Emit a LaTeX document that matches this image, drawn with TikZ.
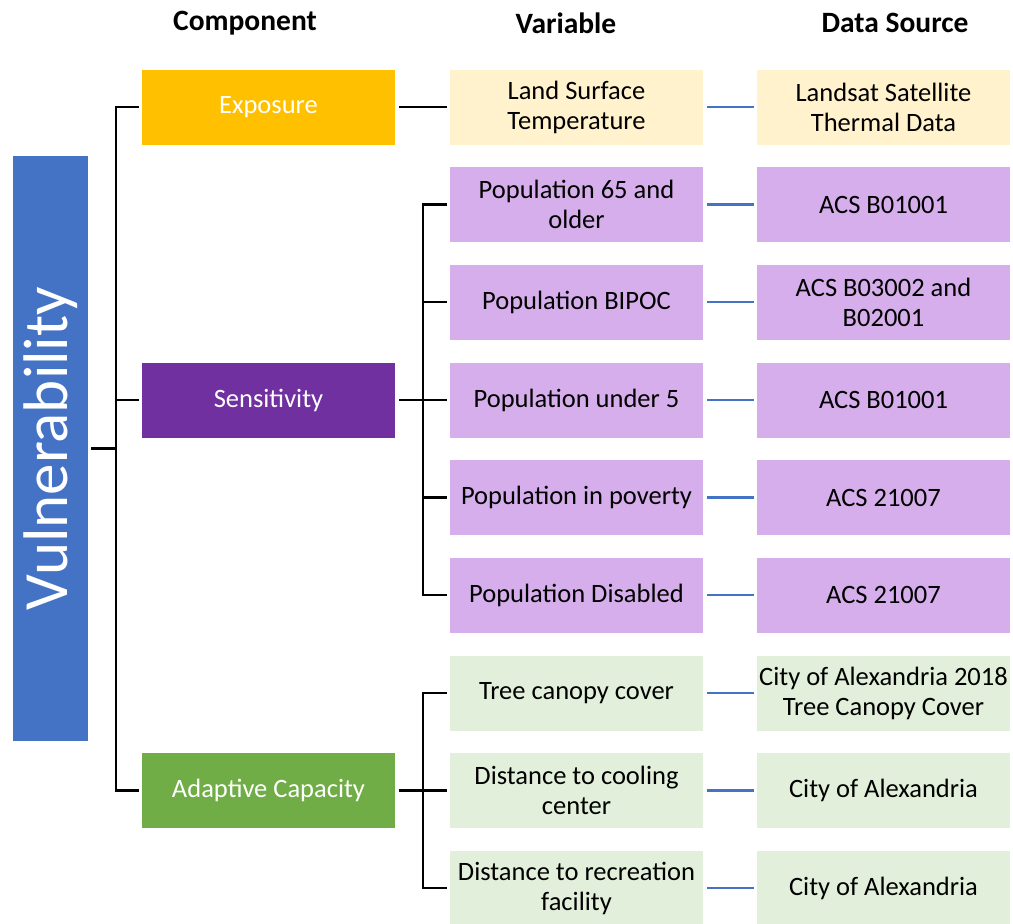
\documentclass[tikz,border=0pt]{standalone}
\usepackage{fontspec}
\setmainfont{Carlito}
\definecolor{vblue}{HTML}{4472C4}
\definecolor{expo}{HTML}{FFC000}
\definecolor{expolt}{HTML}{FFF2CC}
\definecolor{sens}{HTML}{7030A0}
\definecolor{senslt}{HTML}{D5AEEB}
\definecolor{adap}{HTML}{70AD47}
\definecolor{adaplt}{HTML}{E2EFDA}
\begin{document}
\begin{tikzpicture}[x=1pt,y=-1pt,
  box/.style={minimum width=253pt,minimum height=75pt,inner sep=0pt,align=center,font=\fontsize{26.5}{30}\selectfont},
  comp/.style={box,text=white},
  hdr/.style={font=\fontsize{29.5}{32}\selectfont\bfseries},
  conn/.style={line width=2.6pt,black},
  link/.style={line width=2.6pt,vblue,shorten <=4pt,shorten >=3pt}]
\useasboundingbox (0,0) rectangle (1013,924);
% headers
\node[hdr] (h1) at (245,23) {Component};
\node[hdr] (h2) at (566,23) {Variable};
\node[hdr] (h3) at (895,23) {Data Source};
% vulnerability
\node[fill=vblue,minimum width=75pt,minimum height=585pt,inner sep=0pt] (vul) at (50.5,448.5) {};
\node[text=white,rotate=90,font=\fontsize{63}{66}\selectfont] (vult) at (50.5,448.5) {Vulnerability};
% components
\node[comp,fill=expo] (exp) at (268.5,107) {Exposure};
\node[comp,fill=sens] (sen) at (268.5,400) {Sensitivity};
\node[comp,fill=adap] (ada) at (268.5,790.5) {Adaptive Capacity};
% variables
\node[box,fill=expolt] (v1) at (576.5,107) {Land Surface\\Temperature};
\node[box,fill=senslt] (v2) at (576.5,204.5) {Population 65 and\\older};
\node[box,fill=senslt] (v3) at (576.5,302) {Population BIPOC};
\node[box,fill=senslt] (v4) at (576.5,400) {Population under 5};
\node[box,fill=senslt] (v5) at (576.5,497.5) {Population in poverty};
\node[box,fill=senslt] (v6) at (576.5,595) {Population Disabled};
\node[box,fill=adaplt] (v7) at (576.5,693) {Tree canopy cover};
\node[box,fill=adaplt] (v8) at (576.5,790.5) {Distance to cooling\\center};
\node[box,fill=adaplt] (v9) at (576.5,888) {Distance to recreation\\facility};
% data sources
\node[box,fill=expolt] (d1) at (883.5,107) {Landsat Satellite\\Thermal Data};
\node[box,fill=senslt] (d2) at (883.5,204.5) {ACS B01001};
\node[box,fill=senslt] (d3) at (883.5,302) {ACS B03002 and\\B02001};
\node[box,fill=senslt] (d4) at (883.5,400) {ACS B01001};
\node[box,fill=senslt] (d5) at (883.5,497.5) {ACS 21007};
\node[box,fill=senslt] (d6) at (883.5,595) {ACS 21007};
\node[box,fill=adaplt] (d7) at (883.5,693) {City of Alexandria 2018\\Tree Canopy Cover};
\node[box,fill=adaplt] (d8) at (883.5,790.5) {City of Alexandria};
\node[box,fill=adaplt] (d9) at (883.5,888) {City of Alexandria};
% main bracket
\coordinate (mb) at (116,450);
\draw[conn] ([xshift=-3pt]exp.west) -| (mb) |- ([xshift=-3pt]ada.west);
\draw[conn] ([xshift=-3pt]sen.west) -- (sen.west -| mb);
\draw[conn] ([xshift=3pt]vul.east) -- (vul.east -| mb);
% exposure link
\draw[conn] ([xshift=4pt]exp.east) -- ([xshift=-3pt]v1.west);
% sensitivity bracket
\coordinate (sb) at (423,400);
\draw[conn] ([xshift=-3pt]v2.west) -| (sb) |- ([xshift=-3pt]v6.west);
\draw[conn] ([xshift=4pt]sen.east) -- ([xshift=-3pt]v4.west);
\draw[conn] ([xshift=-3pt]v3.west) -- (v3.west -| sb);
\draw[conn] ([xshift=-3pt]v5.west) -- (v5.west -| sb);
% adaptive bracket
\coordinate (ab) at (423,790.5);
\draw[conn] ([xshift=-3pt]v7.west) -| (ab) |- ([xshift=-3pt]v9.west);
\draw[conn] ([xshift=4pt]ada.east) -- ([xshift=-3pt]v8.west);
% data links
\foreach \i in {1,...,9} {\draw[link] (v\i.east) -- (d\i.west);}
\end{tikzpicture}
\end{document}
